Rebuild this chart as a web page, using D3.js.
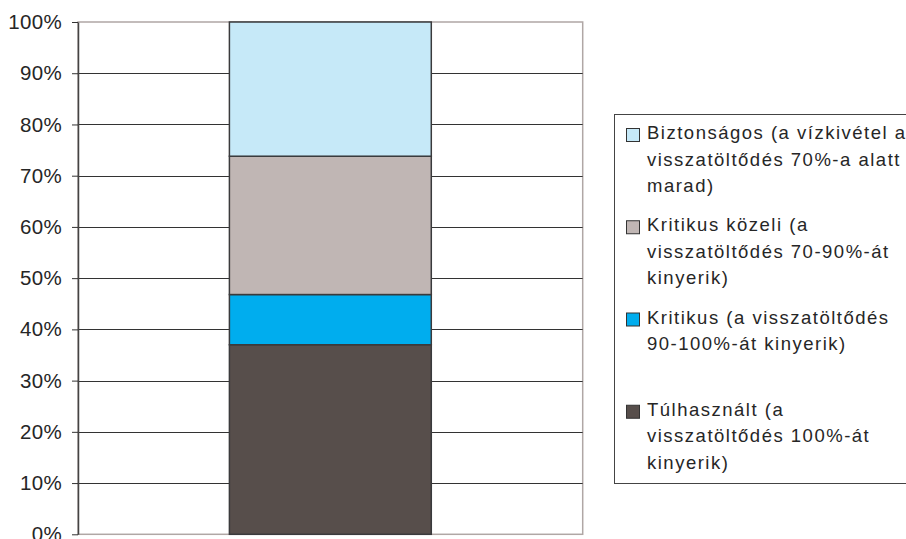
<!DOCTYPE html>
<html>
<head>
<meta charset="utf-8">
<script src="https://cdn.jsdelivr.net/npm/d3@7"></script>
<style>
  body { margin: 0; background: #fff; }
  text { font-family: "Liberation Sans", Arial, sans-serif; fill: #262626; }
</style>
</head>
<body>
<div id="the_chart"></div>
<script>
// stacked categories, bottom to top
var categories = ["Túlhasznált", "Kritikus", "Kritikus közeli", "Biztonságos"];
var values = [0.370, 0.098, 0.270, 0.262];
var colors = ["#574e4b", "#00adee", "#c0b6b4", "#c6e9f8"];
var yTicks = [0, 0.1, 0.2, 0.3, 0.4, 0.5, 0.6, 0.7, 0.8, 0.9, 1.0];
// legend, top to bottom, already wrapped
var legendLabels = [
    ["Biztonságos (a vízkivétel a", "visszatöltődés 70%-a alatt", "marad)"],
    ["Kritikus közeli (a", "visszatöltődés 70-90%-át", "kinyerik)"],
    ["Kritikus (a visszatöltődés", "90-100%-át kinyerik)"],
    ["Túlhasznált (a", "visszatöltődés 100%-át", "kinyerik)"]
];
var legendColors = ["#c6e9f8", "#c0b6b4", "#00adee", "#574e4b"];

var w = 906, h = 539;
var plotL = 78, plotR = 582.7, plotT = 22, plotB = 534.3;

var svg = d3.select("#the_chart")
    .append("svg")
    .attr("width", w)
    .attr("height", h);

var yscale = d3.scaleLinear().domain([0, 1]).range([plotB, plotT]);
var xscale = d3.scaleBand().domain(["bar"]).range([plotL, plotR])
    .paddingInner(0.6).paddingOuter(0.3);

// plot area border (light)
svg.append("rect")
    .attr("x", plotL).attr("y", plotT)
    .attr("width", plotR - plotL).attr("height", plotB - plotT)
    .attr("fill", "none")
    .attr("stroke", "#b0a7a5")
    .attr("stroke-width", 1.5);

// gridlines
svg.selectAll("line.grid")
    .data(yTicks.filter(d => d > 0 && d < 1))
    .enter().append("line")
    .attr("class", "grid")
    .attr("x1", plotL).attr("x2", plotR)
    .attr("y1", d => Math.round(yscale(d)) + 0.5)
    .attr("y2", d => Math.round(yscale(d)) + 0.5)
    .attr("stroke", "#333")
    .attr("stroke-width", 1);

// stack
var stacked = [];
var acc = 0;
values.forEach((v, i) => {
    stacked.push({ name: categories[i], y0: acc, y1: acc + v, color: colors[i] });
    acc += v;
});

svg.selectAll("rect.seg")
    .data(stacked)
    .enter().append("rect")
    .attr("class", "seg")
    .attr("x", xscale("bar"))
    .attr("width", xscale.bandwidth())
    .attr("y", d => yscale(d.y1))
    .attr("height", d => yscale(d.y0) - yscale(d.y1))
    .attr("fill", d => d.color)
    .attr("stroke", "#3a3a3c")
    .attr("stroke-width", 1.5);

// y axis
var yaxis = d3.axisLeft(yscale)
    .tickValues(yTicks)
    .tickFormat(d3.format(".0%"))
    .tickSize(6)
    .tickSizeOuter(0)
    .tickPadding(10);
var ax = svg.append("g")
    .attr("transform", "translate(" + plotL + ",0)")
    .call(yaxis);
ax.select(".domain").attr("stroke", "#444").attr("stroke-width", 1.5);
ax.selectAll(".tick line").attr("stroke", "#333");
ax.selectAll(".tick text")
    .style("font-size", "20.5px")
    .style("letter-spacing", "0.3px")
    .attr("fill", "#262626");

// legend
var lx = 614, ly = 114, lh = 369;
svg.append("rect")
    .attr("x", lx + 0.5).attr("y", ly + 0.5)
    .attr("width", 320).attr("height", lh)
    .attr("fill", "#fff")
    .attr("stroke", "#444")
    .attr("stroke-width", 1);

var slot = d3.scaleBand().domain(d3.range(legendLabels.length)).range([ly, ly + lh]);

var items = svg.selectAll("g.legend")
    .data(legendLabels)
    .enter().append("g")
    .attr("class", "legend")
    .attr("transform", (d, i) => "translate(" + lx + "," + (slot(i) + 25) + ")");

items.append("rect")
    .attr("x", 12.5).attr("y", -10.5)
    .attr("width", 13).attr("height", 13)
    .attr("fill", (d, i) => legendColors[i])
    .attr("stroke", "#333")
    .attr("stroke-width", 1);

items.append("text")
    .attr("x", 33)
    .style("font-size", "18.5px")
    .style("letter-spacing", "1.5px")
    .selectAll("tspan")
    .data(d => d)
    .enter().append("tspan")
    .attr("x", 33)
    .attr("y", (d, i) => i * 26.5)
    .text(d => d);
</script>
</body>
</html>
